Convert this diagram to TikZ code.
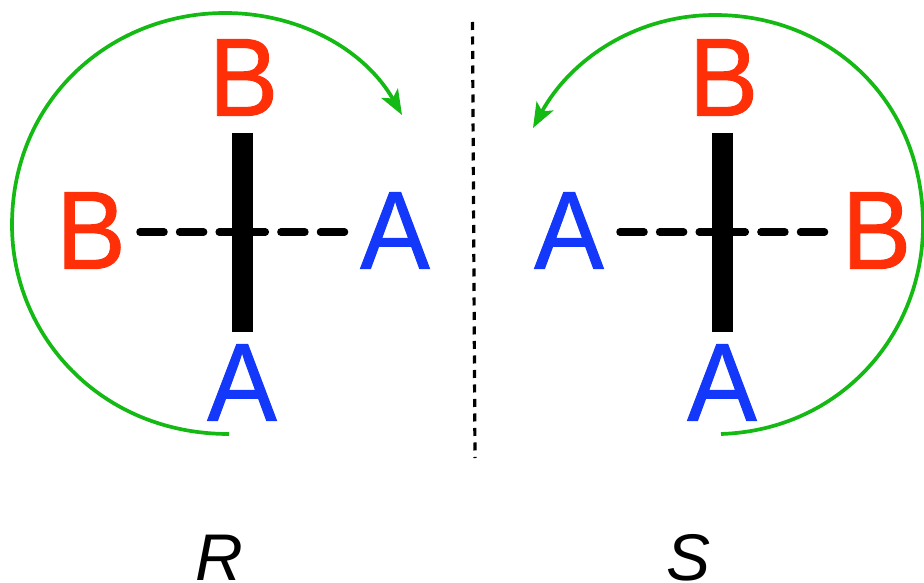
\documentclass[tikz,border=0pt]{standalone}
\usepackage{fontspec}
\setmainfont{Liberation Sans}
\newfontfamily\heavyfont[FakeBold=0.9]{Liberation Sans}
\usetikzlibrary{arrows.meta}
\definecolor{redl}{RGB}{255,48,8}
\definecolor{bluel}{RGB}{20,56,250}
\definecolor{greenl}{RGB}{20,185,20}
\tikzset{
 x=1pt,y=-1pt,
 lab/.style={font=\heavyfont\fontsize{111}{111}\selectfont,inner sep=0pt,anchor=center,xscale=0.94},
 redlab/.style={lab,text=redl},
 bluelab/.style={lab,text=bluel},
 crossbar/.style={line width=21pt,black},
 hashbond/.style={line width=7.5pt,black,line cap=round,dash pattern=on 24pt off 15.6pt},
 turn/.style={line width=3.7pt,greenl,-{Stealth[length=25pt,width=19pt,inset=6pt]}},
 caplab/.style={font=\itshape\fontsize{66}{66}\selectfont,inner sep=0pt,anchor=center},
 mirror/.style={black,line width=3.2pt,dash pattern=on 8pt off 6.5pt},
}
\begin{document}
\begin{tikzpicture}
\useasboundingbox (0,0) rectangle (924,583);
\node[redlab] (bt1) at (243.5,77.5) {B};
\node[bluelab] (ab1) at (242,382.5) {A};
\node[redlab] (bl1) at (91,230.5) {B};
\node[bluelab] (ar1) at (395,230.5) {A};
\node[redlab] (bt2) at (723.5,77.5) {B};
\node[bluelab] (ab2) at (722,382.5) {A};
\node[bluelab] (al2) at (569,230.5) {A};
\node[redlab] (br2) at (876.5,230.5) {B};
\coordinate (t1) at (242.2,133); \coordinate (b1) at (242.2,332);
\coordinate (t2) at (722,133); \coordinate (b2) at (722,332);
\coordinate (c1) at (242.2,232); \coordinate (c2) at (722,232);
\coordinate (l1) at (140,232); \coordinate (r1) at (344.5,232);
\coordinate (l2) at (620,232); \coordinate (r2) at (824.5,232);
\draw[hashbond] (l1) -- (c1);
\draw[hashbond] (r1) -- (c1);
\draw[hashbond] (l2) -- (c2);
\draw[hashbond] (r2) -- (c2);
\draw[crossbar] (t1) -- (b1);
\draw[crossbar] (t2) -- (b2);
\coordinate (s1) at (229,434); \coordinate (e1) at (402,115);
\coordinate (s2) at (721,434); \coordinate (e2) at (533,128);
\draw[turn] (s1) .. controls (100,434) and (12,335) .. (12,225) .. controls (12,100) and (110,13) .. (225,13) .. controls (300,13) and (365,50) .. (e1);
\draw[turn] (s2) .. controls (840,430) and (923,335) .. (923,225) .. controls (923,100) and (830,15) .. (715,15) .. controls (635,15) and (570,60) .. (e2);
\coordinate (m1) at (472.5,22); \coordinate (m2) at (475,458);
\draw[mirror] (m1) -- (m2);
\node[caplab] (R) at (219,558) {R};
\node[caplab] (S) at (689,558) {S};
\end{tikzpicture}
\end{document}
